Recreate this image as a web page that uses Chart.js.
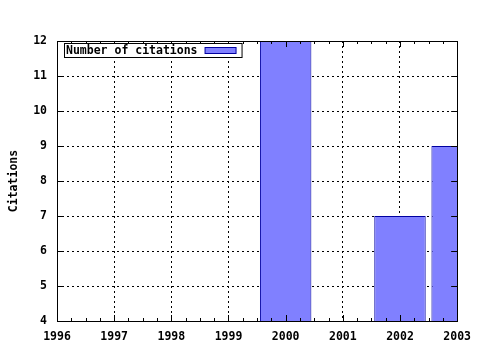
<!DOCTYPE html>
<html>
<head>
    <title>Citations</title>
    <script src="https://cdn.jsdelivr.net/npm/chart.js"></script>
    <style>
        body { margin: 0; background: #fff; }
        #chart-container { width: 480px; height: 350px; }
    </style>
</head>
<body>
    <div id="chart-container">
        <canvas id="chart" width="480" height="350"></canvas>
    </div>

    <script>
        const years = [2000, 2002, 2003];
        const citations = [12, 7, 9];
        const seriesLabel = "Number of citations";
        const yAxisLabel = "Citations";
        const xMin = 1996, xMax = 2003;
        const yMin = 4, yMax = 12;

        const FONT = { family: "'DejaVu Sans Mono', monospace", size: 11.5, weight: "bold" };

        // frame, inward tick marks and the boxed key, gnuplot style
        const gnuplotFrame = {
            id: "gnuplotFrame",
            afterDraw(chart) {
                const ctx = chart.ctx;
                const a = chart.chartArea;
                const x = chart.scales.x, y = chart.scales.y;
                ctx.save();
                ctx.strokeStyle = "#000";
                ctx.lineWidth = 1;
                ctx.setLineDash([]);
                ctx.beginPath();
                for (let v = xMin; v <= xMax + 1e-9; v += 0.25) {
                    const px = Math.round(x.getPixelForValue(v)) + 0.5;
                    const len = Math.abs(v - Math.round(v)) < 1e-9 ? 6 : 3;
                    ctx.moveTo(px, a.bottom); ctx.lineTo(px, a.bottom - len);
                    ctx.moveTo(px, a.top); ctx.lineTo(px, a.top + len);
                }
                for (let v = yMin; v <= yMax; v++) {
                    const py = Math.round(y.getPixelForValue(v)) + 0.5;
                    ctx.moveTo(a.left, py); ctx.lineTo(a.left + 6, py);
                    ctx.moveTo(a.right, py); ctx.lineTo(a.right - 6, py);
                }
                ctx.stroke();
                ctx.strokeRect(Math.round(a.left) + 0.5, Math.round(a.top) + 0.5,
                    Math.round(a.right - a.left), Math.round(a.bottom - a.top));

                // key
                const ds = chart.data.datasets[0];
                ctx.font = FONT.weight + " " + FONT.size + "px " + FONT.family;
                const tw = ctx.measureText(ds.label).width;
                const bx = a.left + 7.5, by = a.top + 2.5;
                const bw = tw + 46, bh = 14;
                ctx.fillStyle = "#fff";
                ctx.fillRect(bx, by, bw, bh);
                ctx.strokeRect(bx, by, bw, bh);
                ctx.fillStyle = "#000";
                ctx.textBaseline = "middle";
                ctx.fillText(ds.label, bx + 1.5, by + bh / 2 + 0.5);
                const sx = bx + bw - 37, sy = by + 4;
                ctx.fillStyle = ds.backgroundColor;
                ctx.fillRect(sx, sy, 31, 6);
                ctx.strokeStyle = ds.borderColor;
                ctx.strokeRect(sx, sy, 31, 6);
                ctx.restore();
            }
        };

        const edgeless = (lo, hi) => c => (c.tick && (c.tick.value === lo || c.tick.value === hi)) ? 0 : 1;

        const ctx = document.getElementById("chart").getContext("2d");
        const chart = new Chart(ctx, {
            type: "bar",
            data: {
                datasets: [{
                    label: seriesLabel,
                    data: years.map((yr, i) => ({ x: yr, y: citations[i] })),
                    backgroundColor: "#8080ff",
                    borderColor: "#0000a0",
                    borderWidth: 1,
                    borderSkipped: "start",
                    barPercentage: 0.9,
                    categoryPercentage: 1,
                    clip: 0
                }]
            },
            options: {
                responsive: false,
                animation: false,
                layout: { padding: { top: 41, right: 21, left: 0, bottom: 0 } },
                plugins: { legend: { display: false }, tooltip: { enabled: false } },
                scales: {
                    x: {
                        type: "linear",
                        min: xMin,
                        max: xMax,
                        offset: false,
                        afterFit: s => { s.height = 29; },
                        border: { display: false, dash: [2, 3] },
                        grid: {
                            offset: false,
                            color: "#000",
                            drawTicks: false,
                            lineWidth: edgeless(xMin, xMax)
                        },
                        ticks: {
                            stepSize: 1,
                            padding: 9,
                            color: "#000",
                            font: FONT,
                            maxRotation: 0,
                            callback: v => String(v)
                        }
                    },
                    y: {
                        min: yMin,
                        max: yMax,
                        afterFit: s => { s.width = 57; },
                        border: { display: false, dash: [2, 3] },
                        grid: {
                            color: "#000",
                            drawTicks: false,
                            lineWidth: edgeless(yMin, yMax)
                        },
                        ticks: { stepSize: 1, padding: 10, color: "#000", font: FONT },
                        title: {
                            display: true,
                            text: yAxisLabel,
                            color: "#000",
                            font: FONT,
                            padding: { top: 7, bottom: 0 }
                        }
                    }
                }
            },
            plugins: [gnuplotFrame]
        });
    </script>
</body>
</html>
